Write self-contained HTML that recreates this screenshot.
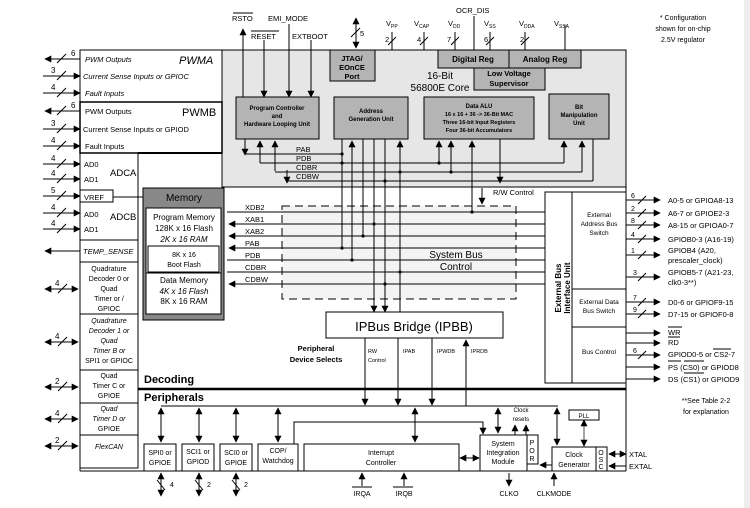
<!DOCTYPE html>
<html><head><meta charset="utf-8"><style>
body{margin:0;background:#fff}
svg{display:block;font-family:"Liberation Sans",Arial,sans-serif}
text{fill:#000}
</style></head><body>
<svg width="750" height="508" viewBox="0 0 750 508" xmlns="http://www.w3.org/2000/svg">
<defs>
<marker id="a" viewBox="0 0 10 10" refX="9" refY="5" markerWidth="7" markerHeight="7" orient="auto-start-reverse" markerUnits="userSpaceOnUse"><path d="M0,0L10,5L0,10z"/></marker>
</defs>
<rect x="744" y="0" width="6" height="508" fill="#eee"/>
<!-- core gray -->
<rect x="222" y="50" width="404" height="137" fill="#e6e6e6" stroke="#000"/>
<!-- system bus dashed area -->
<rect x="282" y="206" width="234" height="93" fill="#f3f3f3" stroke="#000" stroke-dasharray="8,5"/>
<!-- left pins -->
<g stroke="#000" fill="none" stroke-width="1">
<rect x="80" y="50" width="142" height="52"/>
<rect x="80" y="102" width="142" height="51" stroke-width="1.5"/>
<rect x="80" y="153" width="58" height="315"/>
<line x1="138" y1="153" x2="222" y2="153" stroke-width="2"/>
<line x1="222" y1="153" x2="222" y2="188"/>
<rect x="80" y="190" width="33" height="12"/>
<line x1="113" y1="197" x2="143" y2="197"/>
<line x1="80" y1="240" x2="138" y2="240"/>
<line x1="80" y1="262" x2="138" y2="262"/>
<line x1="80" y1="314" x2="138" y2="314"/>
<line x1="80" y1="370" x2="138" y2="370"/>
<line x1="80" y1="403" x2="138" y2="403"/>
<line x1="80" y1="435" x2="138" y2="435"/>
<line x1="80" y1="468" x2="80" y2="471"/>
<line x1="80" y1="471" x2="626" y2="471"/>
<line x1="626" y1="187" x2="626" y2="471"/>
<line x1="138" y1="389" x2="626" y2="389" stroke-width="2.5"/>
</g>
<g stroke="#000" stroke-width="1" fill="none">
<line x1="80" y1="59" x2="45" y2="59" marker-end="url(#a)"/>
<line x1="43" y1="76" x2="80" y2="76" marker-end="url(#a)"/>
<line x1="43" y1="93" x2="80" y2="93" marker-end="url(#a)"/>
<line x1="80" y1="111" x2="45" y2="111" marker-end="url(#a)"/>
<line x1="43" y1="129" x2="80" y2="129" marker-end="url(#a)"/>
<line x1="43" y1="146" x2="80" y2="146" marker-end="url(#a)"/>
<line x1="43" y1="164" x2="80" y2="164" marker-end="url(#a)"/>
<line x1="43" y1="179" x2="80" y2="179" marker-end="url(#a)"/>
<line x1="43" y1="196" x2="80" y2="196" marker-end="url(#a)"/>
<line x1="43" y1="213" x2="80" y2="213" marker-end="url(#a)"/>
<line x1="43" y1="229" x2="80" y2="229" marker-end="url(#a)"/>
<line x1="80" y1="251" x2="45" y2="251" marker-end="url(#a)"/>
<line x1="45" y1="289" x2="78" y2="289" marker-start="url(#a)" marker-end="url(#a)"/>
<line x1="45" y1="342" x2="78" y2="342" marker-start="url(#a)" marker-end="url(#a)"/>
<line x1="45" y1="387" x2="78" y2="387" marker-start="url(#a)" marker-end="url(#a)"/>
<line x1="45" y1="419" x2="78" y2="419" marker-start="url(#a)" marker-end="url(#a)"/>
<line x1="45" y1="446" x2="78" y2="446" marker-start="url(#a)" marker-end="url(#a)"/>
<path d="M57,63L66,54M57,80L66,71M57,97L66,88M57,115L66,106M57,133L66,124M57,150L66,141M57,168L66,159M57,183L66,174M57,200L66,191M57,217L66,208M57,233L66,224M58,293L67,284M58,346L67,337M58,391L67,382M58,423L67,414M58,450L67,441"/>
</g>
<g font-size="8">
<text x="71" y="56">6</text><text x="51" y="73">3</text><text x="51" y="90">4</text>
<text x="71" y="108">6</text><text x="51" y="126">3</text><text x="51" y="143">4</text>
<text x="51" y="161">4</text><text x="51" y="176">4</text><text x="51" y="193">5</text>
<text x="51" y="210">4</text><text x="51" y="226">4</text>
<text x="55" y="286">4</text><text x="55" y="339">4</text><text x="55" y="384">2</text><text x="55" y="416">4</text><text x="55" y="443">2</text>
</g>
<g font-size="7.5">
<text x="85" y="62" font-style="italic">PWM Outputs</text>
<text x="83" y="79" font-style="italic">Current Sense Inputs or GPIOC</text>
<text x="85" y="96" font-style="italic">Fault Inputs</text>
<text x="85" y="114">PWM Outputs</text>
<text x="83" y="132">Current Sense Inputs or GPIOD</text>
<text x="85" y="149">Fault Inputs</text>
<text x="84" y="167">AD0</text><text x="84" y="182">AD1</text>
<text x="84" y="200">VREF</text>
<text x="84" y="217">AD0</text><text x="84" y="232">AD1</text>
<text x="83" y="254" font-style="italic">TEMP_SENSE</text>
</g>
<text x="179" y="64" font-size="11" font-style="italic">PWMA</text>
<text x="182" y="116" font-size="11">PWMB</text>
<text x="110" y="176" font-size="9.5">ADCA</text>
<text x="110" y="220" font-size="9.5">ADCB</text>
<g font-size="7" text-anchor="middle">
<text x="109" y="271">Quadrature</text><text x="109" y="281">Decoder 0 or</text><text x="109" y="291">Quad</text><text x="109" y="301">Timer or /</text><text x="109" y="311">GPIOC</text>
<g font-style="italic"><text x="109" y="323">Quadrature</text><text x="109" y="333">Decoder 1 or</text><text x="109" y="343">Quad</text><text x="109" y="353">Timer B or</text></g><text x="109" y="363">SPI1 or GPIOC</text>
<text x="109" y="378">Quad</text><text x="109" y="388">Timer C or</text><text x="109" y="398">GPIOE</text>
<g font-style="italic"><text x="109" y="411">Quad</text><text x="109" y="421">Timer D or</text></g><text x="109" y="431">GPIOE</text>
<text x="109" y="449" font-style="italic">FlexCAN</text>
</g>
<!-- memory -->
<rect x="143" y="188" width="81" height="132" fill="#888" stroke="#000"/>
<rect x="146" y="208" width="75" height="106" fill="#fff" stroke="#000"/>
<rect x="148" y="246" width="71" height="26" fill="#fff" stroke="#000"/>
<line x1="146" y1="273" x2="221" y2="273" stroke="#000"/>
<g text-anchor="middle" font-size="8">
<text x="184" y="201" font-size="10">Memory</text>
<text x="184" y="220">Program Memory</text><text x="184" y="231">128K x 16 Flash</text><text x="184" y="242" font-style="italic">2K x 16 RAM</text>
<text x="184" y="257" font-size="7">8K x 16</text><text x="184" y="267" font-size="7">Boot Flash</text>
<text x="184" y="283">Data Memory</text><text x="184" y="294" font-style="italic">4K x 16 Flash</text><text x="184" y="304">8K x 16 RAM</text>
</g>
<!-- core blocks -->
<g fill="#b4b4b4" stroke="#000">
<rect x="330" y="50" width="45" height="31"/>
<rect x="438" y="50" width="71" height="18"/>
<rect x="509" y="50" width="72" height="18"/>
<rect x="474" y="68" width="71" height="22"/>
<rect x="236" y="97" width="83" height="42"/>
<rect x="334" y="97" width="74" height="42"/>
<rect x="424" y="97" width="110" height="42"/>
<rect x="549" y="94" width="60" height="45"/>
</g>
<g font-weight="bold" text-anchor="middle" font-size="7">
<text x="352" y="61" font-size="7.5">JTAG/</text><text x="352" y="70" font-size="7.5">EOnCE</text><text x="352" y="79" font-size="7.5">Port</text>
<text x="473" y="62" font-size="8">Digital Reg</text><text x="545" y="62" font-size="8">Analog Reg</text>
<text x="509" y="76" font-size="7.5">Low Voltage</text><text x="509" y="86" font-size="7.5">Supervisor</text>
<text x="277" y="110" font-size="6">Program Controller</text><text x="277" y="118" font-size="6">and</text><text x="277" y="126" font-size="6">Hardware Looping Unit</text>
<text x="371" y="113" font-size="6">Address</text><text x="371" y="121" font-size="6">Generation Unit</text>
<text x="479" y="108" font-size="6">Data ALU</text><text x="479" y="116" font-size="5.5">16 x 16 + 36 -&gt; 36-Bit MAC</text><text x="479" y="124" font-size="5.5">Three 16-bit Input Registers</text><text x="479" y="132" font-size="5.5">Four 36-bit Accumulators</text>
<text x="579" y="109" font-size="6">Bit</text><text x="579" y="117" font-size="6">Manipulation</text><text x="579" y="125" font-size="6">Unit</text>
</g>
<text x="440" y="79" font-size="10" text-anchor="middle">16-Bit</text>
<text x="440" y="91" font-size="10" text-anchor="middle">56800E Core</text>
<!-- top signals -->
<g stroke="#000" fill="none">
<line x1="243" y1="97" x2="243" y2="29" marker-end="url(#a)"/>
<line x1="264" y1="40" x2="264" y2="97" marker-end="url(#a)"/>
<line x1="289" y1="24" x2="289" y2="97" marker-end="url(#a)"/>
<line x1="311" y1="40" x2="311" y2="97" marker-end="url(#a)"/>
<line x1="356" y1="18" x2="356" y2="48" marker-start="url(#a)" marker-end="url(#a)"/>
<path d="M351,37L360,28"/>
<line x1="392" y1="32" x2="392" y2="50"/><line x1="424" y1="32" x2="424" y2="50"/>
<line x1="455" y1="32" x2="455" y2="50"/><line x1="474" y1="16" x2="474" y2="50"/>
<line x1="490" y1="32" x2="490" y2="50"/><line x1="525" y1="32" x2="525" y2="50"/>
<line x1="565" y1="25" x2="565" y2="50"/>
<path d="M388,45L396,37M420,45L428,37M451,45L459,37M486,45L494,37M521,45L529,37"/>
<line x1="233" y1="13" x2="253" y2="13"/><line x1="251" y1="31" x2="279" y2="31"/>
</g>
<g font-size="7.5">
<text x="232" y="21">RSTO</text><text x="268" y="21">EMI_MODE</text>
<text x="251" y="39">RESET</text><text x="292" y="39">EXTBOOT</text>
<text x="360" y="36">5</text>
<text x="456" y="13">OCR_DIS</text>
<text x="386" y="26">V<tspan font-size="5" dy="2">PP</tspan></text>
<text x="414" y="26">V<tspan font-size="5" dy="2">CAP</tspan></text>
<text x="448" y="26">V<tspan font-size="5" dy="2">DD</tspan></text>
<text x="484" y="26">V<tspan font-size="5" dy="2">SS</tspan></text>
<text x="519" y="26">V<tspan font-size="5" dy="2">DDA</tspan></text>
<text x="554" y="26">V<tspan font-size="5" dy="2">SSA</tspan></text>
<text x="385" y="42">2</text><text x="417" y="42">4</text><text x="447" y="42">7</text><text x="484" y="42">6</text><text x="520" y="42">2</text>
</g>
<g font-size="7" text-anchor="middle"><text x="683" y="20">* Configuration</text><text x="683" y="31">shown for on-chip</text><text x="683" y="42">2.5V regulator</text></g>
<!-- core buses -->
<g stroke="#000" fill="none">
<line x1="245" y1="139" x2="245" y2="154"/><line x1="245" y1="154" x2="342" y2="154"/>
<path d="M245,148" /><line x1="245" y1="141" x2="245" y2="155" marker-end="url(#a)"/>
<line x1="260" y1="163" x2="260" y2="141" marker-end="url(#a)"/>
<line x1="275" y1="171" x2="275" y2="141" marker-end="url(#a)"/>
<line x1="260" y1="163" x2="564" y2="163"/>
<line x1="275" y1="172" x2="582" y2="172"/>
<line x1="287" y1="170" x2="287" y2="183" marker-end="url(#a)"/>
<line x1="287" y1="181" x2="593" y2="181"/>
<line x1="593" y1="139" x2="593" y2="181"/>
<line x1="564" y1="163" x2="564" y2="141" marker-end="url(#a)"/>
<line x1="582" y1="172" x2="582" y2="141" marker-end="url(#a)"/>
<line x1="439" y1="163" x2="439" y2="141" marker-end="url(#a)"/>
<line x1="451" y1="172" x2="451" y2="141" marker-end="url(#a)"/>
<line x1="472" y1="212" x2="472" y2="141" marker-end="url(#a)"/>
<line x1="500" y1="139" x2="500" y2="183" marker-end="url(#a)"/>
<line x1="342" y1="139" x2="342" y2="248"/>
<line x1="352" y1="260" x2="352" y2="141" marker-end="url(#a)"/>
<line x1="363" y1="139" x2="363" y2="236"/>
<line x1="374" y1="139" x2="374" y2="312" marker-end="url(#a)"/>
<line x1="385" y1="139" x2="385" y2="312" marker-end="url(#a)"/>
<line x1="400" y1="312" x2="400" y2="141" marker-end="url(#a)"/>
<line x1="482" y1="188" x2="482" y2="204" marker-end="url(#a)"/>
<line x1="222" y1="187" x2="545" y2="187"/>
<line x1="545" y1="187" x2="626" y2="187"/>
</g>
<g fill="#000">
<circle cx="342" cy="154" r="1.6"/><circle cx="342" cy="163" r="1.6"/><circle cx="400" cy="172" r="1.6"/><circle cx="385" cy="181" r="1.6"/>
<circle cx="439" cy="163" r="1.6"/><circle cx="451" cy="172" r="1.6"/>
<circle cx="472" cy="212" r="1.6"/><circle cx="374" cy="224" r="1.6"/><circle cx="363" cy="236" r="1.6"/><circle cx="342" cy="248" r="1.6"/><circle cx="352" cy="260" r="1.6"/><circle cx="400" cy="272" r="1.6"/><circle cx="385" cy="284" r="1.6"/>
</g>
<g font-size="7.5"><text x="296" y="152">PAB</text><text x="296" y="161">PDB</text><text x="296" y="170">CDBR</text><text x="296" y="179">CDBW</text>
<text x="493" y="195">R/W Control</text></g>
<!-- system bus -->
<g stroke="#000" fill="none">
<line x1="227" y1="212" x2="545" y2="212"/>
<line x1="545" y1="224" x2="229" y2="224" marker-end="url(#a)"/>
<line x1="545" y1="236" x2="229" y2="236" marker-end="url(#a)"/>
<line x1="545" y1="248" x2="229" y2="248" marker-end="url(#a)"/>
<line x1="227" y1="260" x2="545" y2="260"/>
<line x1="227" y1="272" x2="545" y2="272"/>
<line x1="545" y1="284" x2="229" y2="284" marker-end="url(#a)"/>
</g>
<g font-size="7.5"><text x="245" y="210">XDB2</text><text x="245" y="222">XAB1</text><text x="245" y="234">XAB2</text><text x="245" y="246">PAB</text><text x="245" y="258">PDB</text><text x="245" y="270">CDBR</text><text x="245" y="282">CDBW</text></g>
<text x="456" y="258" font-size="10" text-anchor="middle">System Bus</text>
<text x="456" y="270" font-size="10" text-anchor="middle">Control</text>
<!-- IPBB -->
<rect x="326" y="312" width="177" height="26" fill="#fff" stroke="#000"/>
<text x="414" y="331" font-size="13" text-anchor="middle">IPBus Bridge (IPBB)</text>
<g font-size="7.5" font-weight="bold" text-anchor="middle"><text x="316" y="351">Peripheral</text><text x="316" y="362">Device Selects</text></g>
<g font-size="5.5"><text x="368" y="353">RW</text><text x="368" y="362">Control</text><text x="403" y="353">IPAB</text><text x="437" y="353">IPWDB</text><text x="471" y="353">IPRDB</text></g>
<g stroke="#000" fill="none">
<line x1="365" y1="338" x2="365" y2="405" marker-end="url(#a)"/>
<line x1="398" y1="338" x2="398" y2="405" marker-end="url(#a)"/>
<line x1="432" y1="338" x2="432" y2="405" marker-end="url(#a)"/>
<line x1="466" y1="406" x2="466" y2="340" marker-end="url(#a)"/>
<line x1="161" y1="406" x2="558" y2="406"/>
<line x1="161" y1="408" x2="161" y2="442" marker-start="url(#a)" marker-end="url(#a)"/>
<line x1="199" y1="408" x2="199" y2="442" marker-start="url(#a)" marker-end="url(#a)"/>
<line x1="236" y1="408" x2="236" y2="442" marker-start="url(#a)" marker-end="url(#a)"/>
<line x1="278" y1="408" x2="278" y2="442" marker-start="url(#a)" marker-end="url(#a)"/>
<line x1="415" y1="408" x2="415" y2="442" marker-start="url(#a)" marker-end="url(#a)"/>
<line x1="498" y1="408" x2="498" y2="433" marker-start="url(#a)" marker-end="url(#a)"/>
<line x1="557" y1="408" x2="557" y2="445" marker-start="url(#a)" marker-end="url(#a)"/>
<path d="M294,444V422H483V434" /><line x1="483" y1="426" x2="483" y2="434" marker-end="url(#a)"/>
<line x1="515" y1="436" x2="515" y2="425" marker-end="url(#a)"/>
<line x1="526" y1="436" x2="526" y2="425" marker-end="url(#a)"/>
<line x1="460" y1="458" x2="479" y2="458" marker-start="url(#a)" marker-end="url(#a)"/>
<line x1="552" y1="465" x2="540" y2="465" marker-end="url(#a)"/>
<line x1="584" y1="420" x2="584" y2="446" stroke="#888" stroke-width="1.5" marker-start="url(#a)" marker-end="url(#a)"/>
<line x1="609" y1="454" x2="626" y2="454" marker-start="url(#a)" marker-end="url(#a)"/>
<line x1="626" y1="466" x2="609" y2="466" marker-end="url(#a)"/>
<line x1="161" y1="473" x2="161" y2="496" marker-start="url(#a)" marker-end="url(#a)"/>
<line x1="199" y1="473" x2="199" y2="496" marker-start="url(#a)" marker-end="url(#a)"/>
<line x1="236" y1="473" x2="236" y2="496" marker-start="url(#a)" marker-end="url(#a)"/>
<path d="M157,480L165,490M195,480L203,490M232,480L240,490"/>
<line x1="362" y1="486" x2="362" y2="473" marker-end="url(#a)"/>
<line x1="404" y1="486" x2="404" y2="473" marker-end="url(#a)"/>
<line x1="509" y1="473" x2="509" y2="486" marker-end="url(#a)"/>
<line x1="554" y1="486" x2="554" y2="473" marker-end="url(#a)"/>
<line x1="352" y1="487" x2="372" y2="487"/><line x1="393" y1="487" x2="413" y2="487"/>
</g>
<g stroke="#000" fill="#fff">
<rect x="144" y="444" width="32" height="27"/><rect x="182" y="444" width="32" height="27"/>
<rect x="220" y="444" width="32" height="27"/><rect x="258" y="444" width="40" height="27"/>
<rect x="304" y="444" width="155" height="27"/>
<rect x="480" y="435" width="47" height="36"/><rect x="527" y="435" width="11" height="29"/>
<rect x="552" y="447" width="44" height="24"/><rect x="596" y="447" width="11" height="24"/>
<rect x="569" y="410" width="30" height="10"/>
</g>
<g font-size="7" text-anchor="middle">
<text x="160" y="455">SPI0 or</text><text x="160" y="465">GPIOE</text>
<text x="198" y="454">SCI1 or</text><text x="198" y="464">GPIOD</text>
<text x="236" y="455">SCI0 or</text><text x="236" y="465">GPIOE</text>
<text x="278" y="453">COP/</text><text x="278" y="463">Watchdog</text>
<text x="381" y="455">Interrupt</text><text x="381" y="465">Controller</text>
<text x="503" y="446">System</text><text x="503" y="455">Integration</text><text x="503" y="464">Module</text>
<text x="532" y="445">P</text><text x="532" y="453">O</text><text x="532" y="461">R</text>
<text x="574" y="457">Clock</text><text x="574" y="467">Generator</text>
<text x="601" y="455">O</text><text x="601" y="462">S</text><text x="601" y="469">C</text>
<text x="584" y="418" font-size="6">PLL</text>
<text x="521" y="412" font-size="6">Clock</text><text x="521" y="421" font-size="6">resets</text>
<text x="362" y="496">IRQA</text><text x="404" y="496">IRQB</text>
<text x="509" y="496">CLKO</text><text x="554" y="496">CLKMODE</text>
<text x="172" y="487">4</text><text x="209" y="487">2</text><text x="246" y="487">2</text>
</g>
<g font-size="7.5"><text x="629" y="457">XTAL</text><text x="629" y="469">EXTAL</text></g>
<text x="144" y="383" font-size="11" font-weight="bold">Decoding</text>
<text x="144" y="401" font-size="11" font-weight="bold">Peripherals</text>
<!-- external bus -->
<g stroke="#000" fill="#fff">
<rect x="545" y="192" width="81" height="191"/>
<line x1="572" y1="192" x2="572" y2="383"/>
<line x1="572" y1="289" x2="626" y2="289"/>
<line x1="572" y1="327" x2="626" y2="327"/>
</g>
<text transform="translate(561,288) rotate(-90)" font-size="8" font-weight="bold" text-anchor="middle">External Bus</text>
<text transform="translate(570,288) rotate(-90)" font-size="8" font-weight="bold" text-anchor="middle">Interface Unit</text>
<g font-size="6.5" text-anchor="middle"><text x="599" y="217">External</text><text x="599" y="226">Address Bus</text><text x="599" y="235">Switch</text>
<text x="599" y="304">External Data</text><text x="599" y="313">Bus Switch</text><text x="599" y="354">Bus Control</text></g>
<g stroke="#000" fill="none">
<line x1="626" y1="200" x2="660" y2="200" marker-end="url(#a)"/>
<line x1="626" y1="213" x2="660" y2="213" marker-end="url(#a)"/>
<line x1="626" y1="225" x2="660" y2="225" marker-end="url(#a)"/>
<line x1="626" y1="239" x2="660" y2="239" marker-end="url(#a)"/>
<line x1="626" y1="255" x2="660" y2="255" marker-end="url(#a)"/>
<line x1="626" y1="277" x2="660" y2="277" marker-end="url(#a)"/>
<line x1="626" y1="302" x2="660" y2="302" marker-end="url(#a)"/>
<line x1="626" y1="314" x2="660" y2="314" marker-end="url(#a)"/>
<line x1="626" y1="333" x2="660" y2="333" marker-end="url(#a)"/>
<line x1="626" y1="343" x2="660" y2="343" marker-end="url(#a)"/>
<line x1="626" y1="355" x2="660" y2="355" marker-end="url(#a)"/>
<line x1="626" y1="367" x2="660" y2="367" marker-end="url(#a)"/>
<line x1="626" y1="379" x2="660" y2="379" marker-end="url(#a)"/>
<path d="M638,204L646,196M638,217L646,209M638,229L646,221M638,243L646,235M638,259L646,251M638,281L646,273M638,306L646,298M638,318L646,310M638,359L646,351"/>
<line x1="668" y1="327" x2="682" y2="327"/><line x1="668" y1="337" x2="680" y2="337"/>
<line x1="713" y1="349" x2="731" y2="349"/><line x1="668" y1="361" x2="681" y2="361"/>
<line x1="684" y1="361" x2="704" y2="361"/><line x1="684" y1="373" x2="704" y2="373"/>
</g>
<g font-size="7"><text x="631" y="198">6</text><text x="631" y="211">2</text><text x="631" y="223">8</text><text x="631" y="237">4</text><text x="631" y="253">1</text><text x="633" y="275">3</text><text x="633" y="300">7</text><text x="633" y="312">9</text><text x="633" y="353">6</text></g>
<g font-size="7.5">
<text x="668" y="203">A0-5 or GPIOA8-13</text><text x="668" y="216">A6-7 or GPIOE2-3</text>
<text x="668" y="228">A8-15 or GPIOA0-7</text><text x="668" y="242">GPIOB0-3 (A16-19)</text>
<text x="668" y="253">GPIOB4 (A20,</text><text x="668" y="263">prescaler_clock)</text>
<text x="668" y="275">GPIOB5-7 (A21-23,</text><text x="668" y="285">clk0-3**)</text>
<text x="668" y="305">D0-6 or GPIOF9-15</text><text x="668" y="317">D7-15 or GPIOF0-8</text>
<text x="668" y="335">WR</text><text x="668" y="345">RD</text>
<text x="668" y="357">GPIOD0-5 or CS2-7</text>
<text x="668" y="370">PS (CS0) or GPIOD8</text><text x="668" y="382">DS (CS1) or GPIOD9</text>
</g>
<g font-size="7" text-anchor="middle"><text x="706" y="403">**See Table 2-2</text><text x="706" y="414">for explanation</text></g>
</svg>
</body></html>
